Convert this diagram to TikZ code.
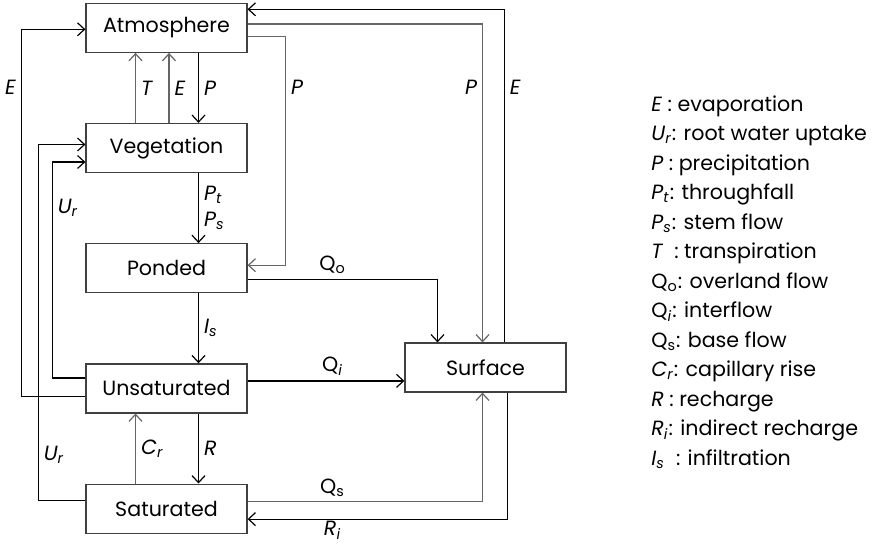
\documentclass[tikz,border=0pt]{standalone}
\usepackage{fontspec}
\setmainfont{Poppins}
\usetikzlibrary{arrows.meta,positioning,calc}
\colorlet{lgray}{black!60}
\newcommand{\fl}[2]{\textit{#1}\textsubscript{\textit{#2}}}

\begin{document}
\begin{tikzpicture}[x=0.5pt, y=-0.5pt, node distance=35pt,
  box/.style={draw=black!75, line width=0.6pt, minimum width=80.5pt, minimum height=24.5pt, font=\fontsize{10.3}{12}\selectfont},
  arr/.style={-{Straight Barb[length=3.5pt,width=6.5pt]}, line width=0.6pt},
  garr/.style={arr, lgray},
  lbl/.style={text=black, font=\fontsize{10.3}{12}\selectfont, inner sep=2.5pt}]
\useasboundingbox (0,0) rectangle (872,545);
\node[box] (atm) at (166.5,27.8) {Atmosphere};
\node[box, below=of atm] (veg) {Vegetation};
\node[box, below=of veg] (pond) {Ponded};
\node[box, below=of pond] (uns) {Unsaturated};
\node[box, below=of uns] (sat) {Saturated};
\node[box] (sur) at (485.5,367.5) {Surface};
% fluxes inside the column
\draw[garr] ($(veg.north)+(-31,0)$) -- node[lbl, right] (lT) {\textit{T}} ($(atm.south)+(-31,0)$);
\draw[garr] ($(veg.north)+(2.5,0)$) -- node[lbl, right] (lEv) {\textit{E}} ($(atm.south)+(2.5,0)$);
\draw[arr] ($(atm.south)+(32,0)$) -- node[lbl, right] (lPv) {\textit{P}} ($(veg.north)+(32,0)$);
\draw[arr] ($(veg.south)+(32,0)$) -- node[lbl, right, align=left, font=\fontsize{10.3}{13}\selectfont] (lPtPs) {\fl{P}{t}\\\fl{P}{s}} ($(pond.north)+(32,0)$);
\draw[arr] ($(pond.south)+(32,0)$) -- node[lbl, right] (lIs) {\fl{I}{s}} ($(uns.north)+(32,0)$);
\draw[garr] ($(sat.north)+(-31,0)$) -- node[lbl, right] (lCr) {\fl{C}{r}} ($(uns.south)+(-31,0)$);
\draw[arr] ($(uns.south)+(32,0)$) -- node[lbl, right] (lR) {\textit{R}} ($(sat.north)+(32,0)$);
% loops on the left
\draw[arr] ($(uns.west)+(0,8)$) -| ($(atm.west)+(-64,1.5)$) -- ($(atm.west)+(0,1.5)$);
\node[lbl, left] (lEl) at ($(atm.west)+(-64,60)$) {\textit{E}};
\draw[arr] ($(sat.west)+(0,-8)$) -| ($(veg.west)+(-47,-3.5)$) -- ($(veg.west)+(0,-3.5)$);
\node[lbl, right] (lUr2) at ($(sat.west)+(-47,-54)$) {\fl{U}{r}};
\draw[arr] ($(uns.west)+(0,-10.5)$) -| ($(veg.west)+(-33,14)$) -- ($(veg.west)+(0,14)$);
\node[lbl, right] (lUr1) at ($(veg.west)+(-33,60)$) {\fl{U}{r}};
% loops on the right
\draw[arr] ($(sur.north)+(19,0)$) |- ($(atm.east)+(0,-18.5)$);
\node[lbl, right] (lEr) at ($(sur.north)+(19,-255)$) {\textit{E}};
\draw[garr] ($(atm.east)+(0,-3.8)$) -| ($(sur.north)+(-3,0)$);
\node[lbl, left] (lPr) at ($(sur.north)+(-3,-255)$) {\textit{P}};
\draw[garr] ($(atm.east)+(0,9)$) -| ($(pond.east)+(38,-3)$) -- ($(pond.east)+(0,-3)$);
\node[lbl, right] (lPm) at ($(atm.east)+(38,60)$) {\textit{P}};
\draw[arr] ($(pond.east)+(0,11)$) -| ($(sur.north)+(-48,0)$);
\node[lbl, above] (lQo) at ($(pond.east)+(85,11)$) {Q\textsubscript{o}};
\draw[arr] ($(uns.east)+(0,-7.5)$) coordinate (qi) -- (qi -| sur.west);
\node[lbl, above] (lQi) at ($(uns.east)+(85,-7.5)$) {Q\textsubscript{\textit{i}}};
\draw[garr] ($(sat.east)+(0,-7)$) -| ($(sur.south)+(-3,0)$);
\node[lbl, above] (lQs) at ($(sat.east)+(85,-7)$) {Q\textsubscript{s}};
\draw[arr] ($(sur.south)+(22,0)$) |- ($(sat.east)+(0,10.5)$);
\node[lbl, below, inner sep=0.8pt] (lRi) at ($(sat.east)+(85,10.5)$) {\fl{R}{i}};
% key
\node[lbl, align=left, anchor=north west, font=\fontsize{10.3}{14.75}\selectfont] (key) at (646,90) {%
\textit{E} : evaporation\\
\fl{U}{r}: root water uptake\\
\textit{P} : precipitation\\
\fl{P}{t}: throughfall\\
\fl{P}{s}: stem flow\\
\textit{T}\ \ : transpiration\\
Q\textsubscript{o}: overland flow\\
Q\textsubscript{\textit{i}}: interflow\\
Q\textsubscript{s}: base flow\\
\fl{C}{r}: capillary rise\\
\textit{R} : recharge\\
\fl{R}{i}: indirect recharge\\
\fl{I}{s}\ \ : infiltration};
\end{tikzpicture}
\end{document}
